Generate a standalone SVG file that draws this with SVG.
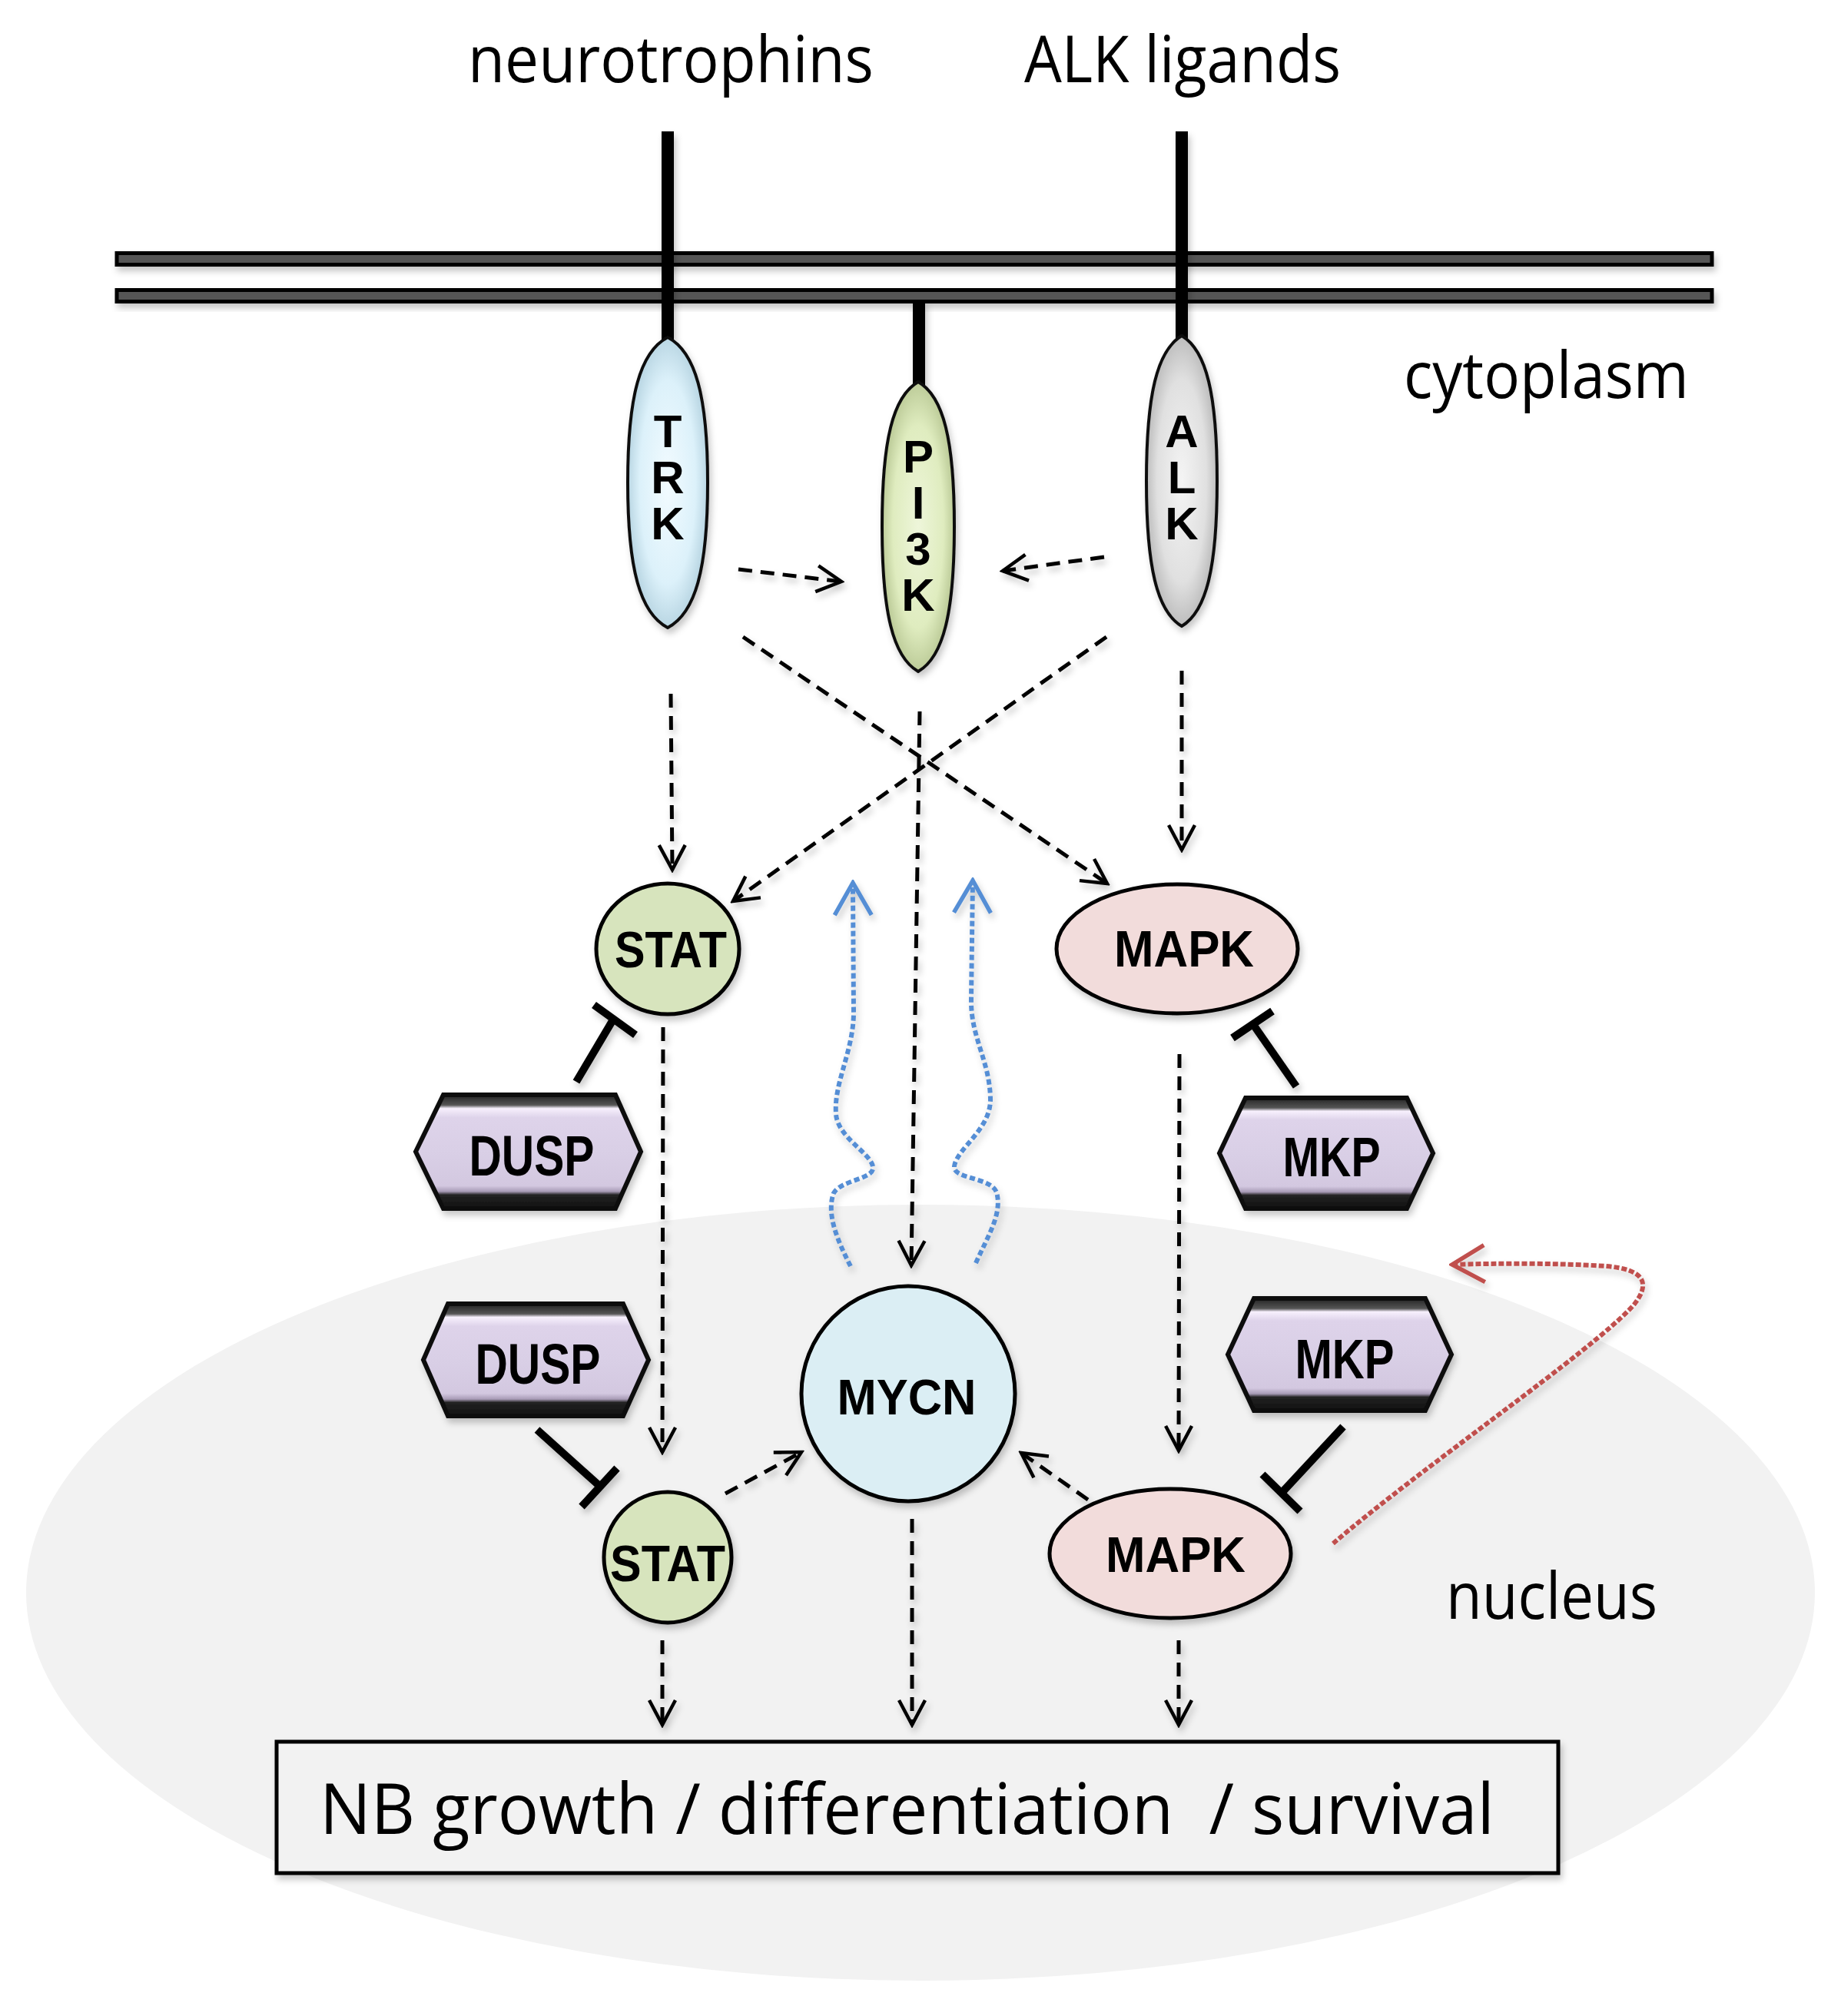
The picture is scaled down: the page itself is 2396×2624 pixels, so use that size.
<svg xmlns="http://www.w3.org/2000/svg" width="2396" height="2624" viewBox="0 0 2396 2624">
<defs>
<style>
.lbl{font-family:"Open Sans","Liberation Sans",sans-serif;fill:#000}
.nl{font-family:"Liberation Sans Narrow","Liberation Sans",Arial,sans-serif;font-weight:bold;fill:#000;text-anchor:middle}
.rl{font-family:"Liberation Sans","DejaVu Sans",sans-serif;font-weight:bold;fill:#000;writing-mode:vertical-rl;text-orientation:upright;letter-spacing:-7px}
.dash{fill:none;stroke:#000;stroke-width:5;stroke-dasharray:18 11;marker-end:url(#ah)}
.inh{stroke:#000;stroke-width:10;fill:none}
.blue{fill:none;stroke:#558ed5;stroke-width:6;stroke-dasharray:7 4;marker-end:url(#ahb)}
.red{fill:none;stroke:#c0504d;stroke-width:6;stroke-dasharray:7 3;marker-end:url(#ahr)}
.node{stroke:#000;stroke-width:5}
.hex{fill:url(#hexg);stroke:#111;stroke-width:6;stroke-linejoin:miter}
.rec{stroke:#111;stroke-width:4}
.stem{stroke:#000;stroke-width:16}
</style>
<filter id="sh" x="-20%" y="-20%" width="140%" height="140%">
<feDropShadow dx="3" dy="6" stdDeviation="4" flood-color="#000" flood-opacity="0.22"/>
</filter>
<marker id="ah" viewBox="0 0 40 40" refX="36" refY="20" markerWidth="40" markerHeight="40" markerUnits="userSpaceOnUse" orient="auto">
<path d="M4,3 L36,20 L4,37" fill="none" stroke="#000" stroke-width="4.5" stroke-dasharray="none"/>
</marker>
<marker id="ahb" viewBox="0 0 50 56" refX="46" refY="28" markerWidth="50" markerHeight="56" markerUnits="userSpaceOnUse" orient="auto">
<path d="M4,4 L46,28 L4,52" fill="none" stroke="#558ed5" stroke-width="5.5" stroke-dasharray="none"/>
</marker>
<marker id="ahr" viewBox="0 0 50 56" refX="46" refY="28" markerWidth="50" markerHeight="56" markerUnits="userSpaceOnUse" orient="auto">
<path d="M4,4 L46,28 L4,52" fill="none" stroke="#c0504d" stroke-width="5.5" stroke-dasharray="none"/>
</marker>
<linearGradient id="hexg" x1="0" y1="0" x2="0" y2="1">
<stop offset="0" stop-color="#222"/>
<stop offset="0.09" stop-color="#555"/>
<stop offset="0.12" stop-color="#f7f0fd"/>
<stop offset="0.2" stop-color="#ded3ea"/>
<stop offset="0.5" stop-color="#d9cfe6"/>
<stop offset="0.8" stop-color="#d3c8e0"/>
<stop offset="0.85" stop-color="#a89bb6"/>
<stop offset="0.88" stop-color="#222"/>
<stop offset="1" stop-color="#111"/>
</linearGradient>
<radialGradient id="gTRK" cx="0.5" cy="0.5" r="0.5"><stop offset="0" stop-color="#f2fbff"/><stop offset="0.7" stop-color="#dcf1fa"/><stop offset="1" stop-color="#b9d6e3"/></radialGradient>
<radialGradient id="gPI3K" cx="0.5" cy="0.5" r="0.5"><stop offset="0" stop-color="#eef6da"/><stop offset="0.7" stop-color="#dfecbf"/><stop offset="1" stop-color="#bccb98"/></radialGradient>
<radialGradient id="gALK" cx="0.5" cy="0.5" r="0.5"><stop offset="0" stop-color="#f4f4f4"/><stop offset="0.7" stop-color="#e0e0e0"/><stop offset="1" stop-color="#bdbdbd"/></radialGradient>
</defs>
<rect width="2396" height="2624" fill="#fff"/>

<g id="nucleus">
<ellipse cx="1198" cy="2073" rx="1164" ry="505" fill="#f2f2f2"/>
<text class="lbl" x="1882" y="2107" font-size="84" textLength="275" lengthAdjust="spacingAndGlyphs">nucleus</text>
</g>

<g id="labels">
<text class="lbl" x="609" y="107" font-size="84" textLength="528" lengthAdjust="spacingAndGlyphs">neurotrophins</text>
<text class="lbl" x="1333" y="107" font-size="84" textLength="412" lengthAdjust="spacingAndGlyphs">ALK ligands</text>
<text class="lbl" x="1827" y="518" font-size="84" textLength="371" lengthAdjust="spacingAndGlyphs">cytoplasm</text>
</g>

<g id="membrane" filter="url(#sh)">
<rect x="152" y="329.5" width="2076" height="15" fill="#555" stroke="#000" stroke-width="5"/>
<rect x="152" y="377.5" width="2076" height="15" fill="#555" stroke="#000" stroke-width="5"/>
</g>

<g id="TRK" filter="url(#sh)">
<line class="stem" x1="869" y1="171" x2="869" y2="445"/>
<path class="rec" fill="url(#gTRK)" d="M869,439 C905,458 921,515 921,628 C921,741 905,798 869,817 C833,798 817,741 817,628 C817,515 833,458 869,439Z"/>
<text class="rl" x="869" y="528" font-size="60">TRK</text>
</g>

<g id="PI3K" filter="url(#sh)">
<line class="stem" x1="1196" y1="392" x2="1196" y2="503"/>
<path class="rec" fill="url(#gPI3K)" d="M1195,497 C1228,516 1242,573 1242,685 C1242,797 1228,855 1195,874 C1162,855 1148,797 1148,685 C1148,573 1162,516 1195,497Z"/>
<text class="rl" x="1195" y="561" font-size="60">PI3K</text>
</g>

<g id="ALK" filter="url(#sh)">
<line class="stem" x1="1538" y1="171" x2="1538" y2="443"/>
<path class="rec" fill="url(#gALK)" d="M1538,437 C1570,456 1584,513 1584,626 C1584,739 1570,796 1538,815 C1506,796 1492,739 1492,626 C1492,513 1506,456 1538,437Z"/>
<text class="rl" x="1538" y="528" font-size="60">ALK</text>
</g>

<g id="connectors" filter="url(#sh)">
<path class="dash" d="M961,741 L1095,757"/>
<path class="dash" d="M1437,725 L1305,743"/>
<path class="dash" d="M967,829 L1441,1150"/>
<path class="dash" d="M1440,829 L954,1173"/>
<path class="dash" d="M873,903 L875,1132"/>
<path class="dash" d="M1538,873 L1538,1106"/>
<path class="dash" d="M1197,926 L1186,1647"/>
<path class="dash" d="M863,1337 L862,1890"/>
<path class="dash" d="M1535,1372 L1534,1888"/>
<path class="dash" d="M944,1944 L1043,1890"/>
<path class="dash" d="M1416,1952 L1329,1891"/>
<path class="dash" d="M862,2135 L862,2245"/>
<path class="dash" d="M1187,1977 L1187,2245"/>
<path class="dash" d="M1534,2135 L1534,2245"/>
<path class="blue" d="M1107,1648 C1090,1615 1075,1580 1085,1553 C1095,1535 1140,1535 1136,1518 C1132,1500 1090,1480 1088,1450 C1085,1410 1110,1370 1111,1320 L1110,1149"/>
<path class="blue" d="M1270,1644 C1285,1610 1305,1580 1297,1552 C1290,1532 1240,1535 1242,1518 C1245,1495 1290,1470 1289,1430 C1288,1380 1263,1350 1264,1300 L1266,1146"/>
<path class="red" d="M1735,2009 C1850,1910 2070,1760 2125,1700 C2150,1670 2140,1652 2090,1648 C2030,1644 1950,1644 1890,1646"/>
<line class="inh" x1="750" y1="1408" x2="798" y2="1327"/>
<line class="inh" x1="773" y1="1308" x2="827" y2="1347"/>
<line class="inh" x1="1687" y1="1414" x2="1630" y2="1332"/>
<line class="inh" x1="1604" y1="1351" x2="1656" y2="1316"/>
<line class="inh" x1="699" y1="1861" x2="778" y2="1932"/>
<line class="inh" x1="757" y1="1961" x2="803" y2="1911"/>
<line class="inh" x1="1748" y1="1857" x2="1669" y2="1942"/>
<line class="inh" x1="1643" y1="1919" x2="1692" y2="1967"/>
</g>

<g id="STAT1" filter="url(#sh)">
<ellipse class="node" cx="869" cy="1235" rx="93" ry="85" fill="#d7e4bd"/>
<text class="nl" x="873" y="1259" font-size="66" textLength="146" lengthAdjust="spacingAndGlyphs">STAT</text>
</g>

<g id="MAPK1" filter="url(#sh)">
<ellipse class="node" cx="1532" cy="1235" rx="157" ry="84" fill="#f2dcdb"/>
<text class="nl" x="1541" y="1258" font-size="66" textLength="182" lengthAdjust="spacingAndGlyphs">MAPK</text>
</g>

<g id="DUSP1" filter="url(#sh)">
<polygon class="hex" points="541,1499 577,1425 801,1425 834,1499 801,1573 577,1573"/>
<text class="nl" x="692" y="1530" font-size="74" textLength="163" lengthAdjust="spacingAndGlyphs">DUSP</text>
</g>

<g id="MKP1" filter="url(#sh)">
<polygon class="hex" points="1587,1501 1621,1429 1831,1429 1865,1501 1831,1573 1621,1573"/>
<text class="nl" x="1733" y="1531" font-size="72" textLength="127" lengthAdjust="spacingAndGlyphs">MKP</text>
</g>

<g id="DUSP2" filter="url(#sh)">
<polygon class="hex" points="551,1770 583,1697 811,1697 844,1770 811,1843 583,1843"/>
<text class="nl" x="700" y="1801" font-size="74" textLength="163" lengthAdjust="spacingAndGlyphs">DUSP</text>
</g>

<g id="MKP2" filter="url(#sh)">
<polygon class="hex" points="1598,1763 1632,1690 1855,1690 1889,1763 1855,1836 1632,1836"/>
<text class="nl" x="1750" y="1794" font-size="72" textLength="129" lengthAdjust="spacingAndGlyphs">MKP</text>
</g>

<g id="MYCN" filter="url(#sh)">
<ellipse class="node" cx="1182" cy="1814" rx="139" ry="140" fill="#dbeef4"/>
<text class="nl" x="1180" y="1841" font-size="64" textLength="181" lengthAdjust="spacingAndGlyphs">MYCN</text>
</g>

<g id="STAT2" filter="url(#sh)">
<ellipse class="node" cx="869" cy="2027" rx="83" ry="85" fill="#d7e4bd"/>
<text class="nl" x="869" y="2058" font-size="67" textLength="150" lengthAdjust="spacingAndGlyphs">STAT</text>
</g>

<g id="MAPK2" filter="url(#sh)">
<ellipse class="node" cx="1523" cy="2022" rx="157" ry="84" fill="#f2dcdb"/>
<text class="nl" x="1530" y="2046" font-size="64" textLength="182" lengthAdjust="spacingAndGlyphs">MAPK</text>
</g>

<g id="outcome" filter="url(#sh)">
<rect x="360" y="2267" width="1668" height="171" fill="#f2f2f2" stroke="#000" stroke-width="5"/>
<text class="lbl" x="416" y="2387" font-size="92" textLength="1529" lengthAdjust="spacingAndGlyphs" xml:space="preserve">NB growth / differentiation  / survival</text>
</g>
</svg>
